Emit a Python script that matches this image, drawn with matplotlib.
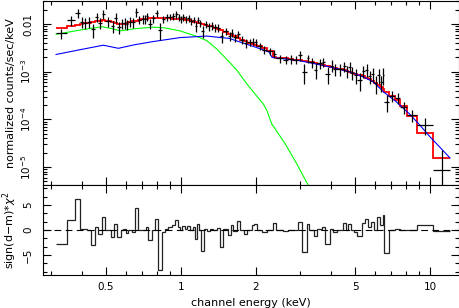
import numpy as np
import matplotlib
matplotlib.use('Agg')
import matplotlib.pyplot as plt
from matplotlib.ticker import FixedLocator, FuncFormatter, LogLocator, NullFormatter, AutoMinorLocator

# channel bin edges (keV)
edges = [0.3148, 0.3475, 0.3752, 0.3930, 0.4051, 0.4181, 0.4338, 0.4514, 0.4655, 0.4803,
         0.4952, 0.5234, 0.5381, 0.5548, 0.5725, 0.5865, 0.6013, 0.6143, 0.6339, 0.6536,
         0.6701, 0.6909, 0.7103, 0.7235, 0.7391, 0.7627, 0.7864, 0.8107, 0.8367, 0.8626,
         0.8892, 0.9177, 0.9461, 0.9681, 0.9863, 1.0065, 1.0377, 1.0600, 1.0867, 1.1142,
         1.1382, 1.1564, 1.1845, 1.2033, 1.2373, 1.2719, 1.3075, 1.3443, 1.3909, 1.4338,
         1.4783, 1.5488, 1.5834, 1.6218, 1.6737, 1.7256, 1.7907, 1.8464, 1.9225, 1.9640,
         2.0247, 2.1090, 2.2089, 2.3350, 2.4071, 2.5754, 2.6976, 2.8176, 2.9586, 3.0531,
         3.1976, 3.2757, 3.4204, 3.5268, 3.6734, 3.7870, 3.9663, 4.0775, 4.2313, 4.4609,
         4.5996, 4.6983, 4.8035, 4.9530, 5.1050, 5.3170, 5.4828, 5.6522, 5.7978, 5.9602,
         6.1455, 6.3006, 6.4565, 6.5361, 6.8634, 7.2361, 7.5784, 8.0835, 8.8652, 10.280, 12.033]

# normalized counts/sec/keV per bin
flux = [0.0064, 0.0120, 0.0168, 0.0112, 0.0106, 0.0112, 0.0077, 0.0140, 0.0107, 0.0165,
        0.0114, 0.0090, 0.0135, 0.0085, 0.0103, 0.0106, 0.0098, 0.0112, 0.0108, 0.0180,
        0.0124, 0.0128, 0.0126, 0.0145, 0.0102, 0.0131, 0.0168, 0.0075, 0.0126, 0.0138,
        0.0143, 0.0147, 0.0160, 0.0140, 0.0128, 0.0138, 0.0128, 0.0131, 0.0116, 0.0124,
        0.0090, 0.0123, 0.0104, 0.0072, 0.0100, 0.0090, 0.0093, 0.0085, 0.0084, 0.0055,
        0.0071, 0.0056, 0.0066, 0.0053, 0.0062, 0.0047, 0.0040, 0.0042, 0.0043, 0.0042,
        0.0034, 0.0029, 0.0027, 0.0024, 0.0019, 0.0018, 0.00185, 0.0018, 0.0022, 0.0010,
        0.0019, 0.00157, 0.0011, 0.0015, 0.0016, 0.0009, 0.00135, 0.00112, 0.00113, 0.0013,
        0.00103, 0.00125, 0.00096, 0.00085, 0.00066, 0.00105, 0.0011, 0.0008, 0.0009, 0.00058,
        0.00085, 0.0006, 0.00085, 0.00023, 0.00031, 0.00028, 0.00018, 0.000125, 7.8e-5, 8.5e-6]

flux_err = [0.0015, 0.0028, 0.0035, 0.0030, 0.0028, 0.0028, 0.0025, 0.0032, 0.0028, 0.0035,
            0.0026, 0.0025, 0.0032, 0.0023, 0.0026, 0.0026, 0.0024, 0.0026, 0.0024, 0.0036,
            0.0026, 0.0026, 0.0026, 0.0027, 0.0025, 0.0025, 0.0030, 0.0028, 0.0023, 0.0023,
            0.0022, 0.0023, 0.0030, 0.0023, 0.0022, 0.0022, 0.0022, 0.0021, 0.0020, 0.0020,
            0.0021, 0.0020, 0.0019, 0.0020, 0.0017, 0.0017, 0.0017, 0.0016, 0.0016, 0.0014,
            0.0013, 0.0012, 0.0012, 0.0010, 0.0011, 0.0009, 0.0009, 0.00075, 0.00075, 0.00075,
            0.0006, 0.0006, 0.00045, 0.00045, 0.00037, 0.00037, 0.00037, 0.00037, 0.0005, 0.00045,
            0.00038, 0.00037, 0.0004, 0.00037, 0.00037, 0.00035, 0.00037, 0.00032, 0.0003, 0.0003,
            0.0003, 0.00032, 0.0003, 0.0003, 0.00026, 0.0003, 0.00033, 0.00026, 0.0003, 0.00024,
            0.0003, 0.00022, 0.00032, 9e-5, 8e-5, 7e-5, 5e-5, 3.5e-5, 3e-5, 1.4e-5]

# total folded model
model = [0.0084, 0.0091, 0.0096, 0.0099, 0.0103, 0.0106, 0.0110, 0.0114, 0.0118, 0.0120,
         0.0116, 0.0110, 0.0106, 0.0102, 0.0100, 0.0102, 0.0105, 0.0109, 0.0114, 0.0118,
         0.0122, 0.0125, 0.0127, 0.0129, 0.0131, 0.0132, 0.0132, 0.0132, 0.0132, 0.0131,
         0.0131, 0.0130, 0.0129, 0.0128, 0.0127, 0.0125, 0.0122, 0.0119, 0.0116, 0.0113,
         0.0110, 0.0107, 0.0104, 0.0101, 0.0097, 0.0093, 0.0089, 0.0084, 0.0079, 0.0074,
         0.0068, 0.0063, 0.0059, 0.0055, 0.0051, 0.0047, 0.0044, 0.0041, 0.0038, 0.0036,
         0.0034, 0.0031, 0.0027, 0.0020, 0.00195, 0.0019, 0.00185, 0.0018, 0.00175, 0.0017,
         0.0016, 0.00157, 0.0015, 0.00145, 0.0014, 0.0013, 0.00125, 0.0012, 0.00113, 0.00107,
         0.00103, 0.0010, 0.00096, 0.0009, 0.00085, 0.0008, 0.00075, 0.0007, 0.00064, 0.00058,
         0.00052, 0.00047, 0.00044, 0.00038, 0.00031, 0.00026, 0.00019, 0.000115, 5.1e-5, 1.55e-5]

# sign(d-m)*chi^2 per bin
resid = [-2.8, 2.0, 6.3, 0.3, 0.3, 0.1, -3.0, 0.7, -0.7, 2.7,
         0.0, -1.3, 1.3, -1.4, 0.1, 0.2, -0.5, 0.1, -0.3, 4.5,
         0.0, 0.1, 0.0, 0.7, -2.0, 0.1, 2.3, -7.9, -0.3, 0.3,
         0.7, 1.0, 2.0, 0.7, 0.1, 0.8, 0.3, 0.8, 0.0, 0.7,
         -1.7, 1.3, 0.1, -4.1, 0.2, -0.2, 0.3, 0.1, 0.4, -3.3,
         0.3, -1.0, 1.0, -0.2, 1.8, 0.0, -0.7, 0.1, 1.0, 1.3,
         0.1, -0.3, 0.0, 1.5, 0.1, -0.2, 0.0, 0.1, 1.7, -4.3,
         1.3, 0.0, -1.2, 0.3, 0.7, -2.8, 0.3, -0.3, 0.1, 1.4,
         0.0, 1.3, 0.1, -0.3, -1.2, 1.4, 2.3, 0.7, 1.7, 0.0,
         2.6, 1.0, 3.0, -4.5, 0.0, 0.3, 0.0, 0.1, 1.1, -0.2]

# power-law component
pl_energy = [0.3148, 0.393, 0.4875, 0.560, 0.6536, 0.774, 0.991, 1.268, 1.563, 1.7256,
             1.983, 2.256, 2.320, 3.006, 3.966, 4.772, 5.396, 5.920, 6.493, 7.350,
             8.312, 9.116, 10.0, 12.03]
pl_flux = [0.0023, 0.0029, 0.0036, 0.0031, 0.0037, 0.0043, 0.0052, 0.0056, 0.0050, 0.0042,
           0.0033, 0.0026, 0.0020, 0.0017, 0.00126, 0.00099, 0.00078, 0.00061, 0.00038, 0.00023,
           0.000127, 7.5e-5, 4.3e-5, 1.55e-5]

# thermal component
th_energy = [0.3148, 0.393, 0.4803, 0.5284, 0.570, 0.6536, 0.772, 0.8626, 0.9908, 1.156,
             1.268, 1.391, 1.563, 1.674, 1.836, 1.983, 2.141, 2.210, 2.312, 2.617,
             2.915, 3.245, 3.453]
th_flux = [0.0061, 0.0075, 0.0088, 0.0080, 0.0072, 0.0080, 0.0086, 0.0083, 0.0072, 0.0055,
           0.0045, 0.0030, 0.0016, 0.00108, 5.6e-4, 3.4e-4, 2.1e-4, 1.55e-4, 8.1e-5, 3.1e-5,
           1.17e-5, 4.1e-6, 2.0e-6]

plt.rcParams['font.family'] = 'DejaVu Sans'
plt.rcParams['mathtext.fontset'] = 'dejavusans'

e = np.array(edges)
lo, hi = e[:-1], e[1:]
cen = np.sqrt(lo * hi)
f = np.array(flux)
ferr = np.array(flux_err)
err_lo = np.minimum(ferr, f - 1e-7)

fig = plt.figure(figsize=(4.6, 3.08), dpi=100)
ax1 = fig.add_axes([0.0935, 0.3994, 0.9043, 0.5974])
ax2 = fig.add_axes([0.0935, 0.1071, 0.9043, 0.2922], sharex=ax1)

ax1.stairs(model, edges, baseline=None, color='#ff0000', lw=1.3, zorder=2)
ax1.plot(th_energy, th_flux, color='#00ff00', lw=0.8, zorder=3)
ax1.plot(pl_energy, pl_flux, color='#0000ff', lw=0.8, zorder=3)
ax1.errorbar(cen, f, xerr=[cen - lo, hi - cen], yerr=[err_lo, ferr],
             fmt='none', ecolor='black', elinewidth=0.9, capsize=0, zorder=4)

ax1.set_xscale('log')
ax1.set_yscale('log')
ax1.set_xlim(0.279, 13.07)
ax1.set_ylim(4.2e-6, 0.0305)
ax1.set_ylabel('normalized counts/sec/keV', fontsize=8)
ax1.yaxis.set_label_coords(-0.066, 0.5)


def dec_fmt(v, pos):
    p = int(round(np.log10(v)))
    if p == -2:
        return '0.01'
    return r'$10^{%d}$' % p


ax1.yaxis.set_major_locator(LogLocator(base=10))
ax1.yaxis.set_minor_locator(LogLocator(base=10, subs=np.arange(2, 10)))
ax1.yaxis.set_major_formatter(FuncFormatter(dec_fmt))
ax1.yaxis.set_minor_formatter(NullFormatter())

ax2.stairs(resid, edges, baseline=None, color='#222222', lw=0.9)
ax2.axhline(0, color='black', lw=0.8, ls=(0, (6, 4)))
ax2.set_ylim(-9, 9)
ax2.set_yticks([-5, 0, 5])
ax2.set_yticklabels(['\u22125', '0', '5'])
ax2.yaxis.set_minor_locator(AutoMinorLocator(3))
ax2.set_ylabel(r'sign(d$-$m)*$\chi^2$', fontsize=8)
ax2.yaxis.set_label_coords(-0.058, 0.5)
ax2.set_xlabel('channel energy (keV)', fontsize=8)

ax2.xaxis.set_major_locator(FixedLocator([0.5, 1, 2, 5, 10]))
ax2.xaxis.set_minor_locator(FixedLocator([0.3, 0.4, 0.6, 0.7, 0.8, 0.9, 3, 4, 6, 7, 8, 9]))
ax2.xaxis.set_major_formatter(FuncFormatter(lambda v, p: '%g' % v))
ax2.xaxis.set_minor_formatter(NullFormatter())

for ax in (ax1, ax2):
    ax.tick_params(which='both', direction='in', top=True, right=True, width=0.8, labelsize=7.5)
    ax.tick_params(which='major', length=6)
    ax.tick_params(which='minor', length=3)
    ax.tick_params(axis='y', labelrotation=90, pad=7)
    ax.tick_params(axis='x', pad=5)
    for s in ax.spines.values():
        s.set_linewidth(0.8)
    for lab in ax.get_yticklabels():
        lab.set_verticalalignment('center')
ax1.tick_params(labelbottom=False)

fig.savefig('out.png', dpi=100)
